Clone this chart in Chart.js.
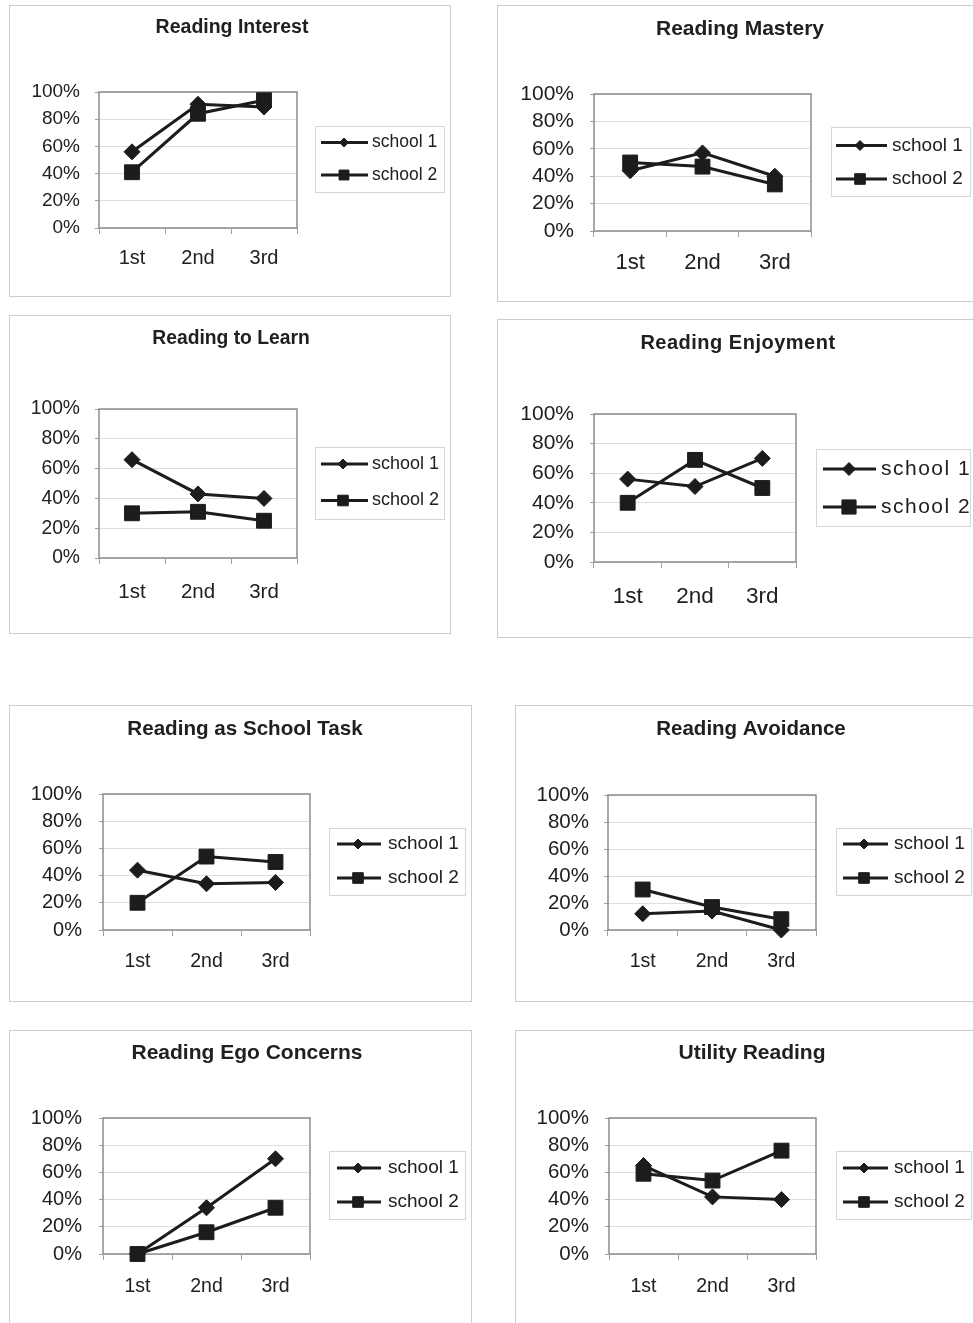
<!DOCTYPE html>
<html>
<head>
<meta charset="utf-8">
<script src="https://cdn.jsdelivr.net/npm/chart.js@4.4.0/dist/chart.umd.min.js"></script>
<style>
  html, body { margin: 0; padding: 0; background: #fff; width: 973px; height: 1323px; overflow: hidden; }
  canvas { position: absolute; }
</style>
</head>
<body>
<script>
// Grades on the x axis, the two schools compared, and the y tick labels
const grades = ['1st', '2nd', '3rd'];
const schools = ['school 1', 'school 2'];
const percentTicks = ['0%', '20%', '40%', '60%', '80%', '100%'];

const titles = [
  'Reading Interest', 'Reading Mastery', 'Reading to Learn', 'Reading Enjoyment',
  'Reading as School Task', 'Reading Avoidance', 'Reading Ego Concerns', 'Utility Reading'
];

// Share of students per grade (0..1)
const interestSchool1 = [0.56, 0.91, 0.89];
const interestSchool2 = [0.41, 0.84, 0.94];
const masterySchool1 = [0.44, 0.57, 0.40];
const masterySchool2 = [0.50, 0.47, 0.34];
const learnSchool1 = [0.66, 0.43, 0.40];
const learnSchool2 = [0.30, 0.31, 0.25];
const enjoymentSchool1 = [0.56, 0.51, 0.70];
const enjoymentSchool2 = [0.40, 0.69, 0.50];
const schoolTaskSchool1 = [0.44, 0.34, 0.35];
const schoolTaskSchool2 = [0.20, 0.54, 0.50];
const avoidanceSchool1 = [0.12, 0.14, 0.00];
const avoidanceSchool2 = [0.30, 0.17, 0.08];
const egoSchool1 = [0.00, 0.34, 0.70];
const egoSchool2 = [0.00, 0.16, 0.34];
const utilitySchool1 = [0.65, 0.42, 0.40];
const utilitySchool2 = [0.59, 0.54, 0.76];

const school1Series = [interestSchool1, masterySchool1, learnSchool1, enjoymentSchool1,
  schoolTaskSchool1, avoidanceSchool1, egoSchool1, utilitySchool1];
const school2Series = [interestSchool2, masterySchool2, learnSchool2, enjoymentSchool2,
  schoolTaskSchool2, avoidanceSchool2, egoSchool2, utilitySchool2];

// Page layout of each panel: frame, plot area, legend box and font sizes (px)
const panelLayouts = [
  { box: [9, 5, 451, 297], plot: [99, 92, 297, 228], legend: [315, 126, 444, 192], lineX: [321, 368], markX: 344, rows: [142.5, 175], textX: 372,
    titleAt: [232, 28], titleSize: 19.5, ySize: 19, yLabelRight: 80, xSize: 20, xLabelY: 258, legendSize: 17.5, legendMarks: [4.5, 7], spacing: 0 },
  { box: [497, 5, 980, 302], plot: [594, 94, 811, 231], legend: [831, 127, 970, 196], lineX: [836, 887], markX: 860, rows: [145.5, 179], textX: 892,
    titleAt: [740, 29], titleSize: 21, ySize: 21, yLabelRight: 574, xSize: 22, xLabelY: 263, legendSize: 19, legendMarks: [5, 7.5], spacing: 0 },
  { box: [9, 315, 451, 634], plot: [99, 409, 297, 558], legend: [315, 447, 444, 519], lineX: [321, 368], markX: 343, rows: [464, 500.5], textX: 372,
    titleAt: [231, 339], titleSize: 19.3, ySize: 19.3, yLabelRight: 80, xSize: 20.5, xLabelY: 592, legendSize: 18, legendMarks: [5, 7.5], spacing: 0 },
  { box: [497, 319, 980, 638], plot: [594, 414, 796, 562], legend: [816, 449, 970, 526], lineX: [823, 876], markX: 849, rows: [469, 507], textX: 881,
    titleAt: [738, 343], titleSize: 20, ySize: 21, yLabelRight: 574, xSize: 22.5, xLabelY: 597, legendSize: 21, legendMarks: [6.5, 10], spacing: 1 },
  { box: [9, 705, 472, 1002], plot: [103, 794, 310, 930], legend: [329, 828, 465, 895], lineX: [337, 381], markX: 358, rows: [844, 878], textX: 388,
    titleAt: [245, 729], titleSize: 20.6, ySize: 20, yLabelRight: 82, xSize: 19.5, xLabelY: 962, legendSize: 19, legendMarks: [5, 7.5], spacing: 0 },
  { box: [515, 705, 980, 1002], plot: [608, 795, 816, 930], legend: [836, 828, 971, 895], lineX: [843, 888], markX: 864, rows: [844, 878], textX: 894,
    titleAt: [751, 729], titleSize: 20.5, ySize: 20.5, yLabelRight: 589, xSize: 19.5, xLabelY: 962, legendSize: 19, legendMarks: [5, 7.5], spacing: 0 },
  { box: [9, 1030, 472, 1330], plot: [103, 1118, 310, 1254], legend: [329, 1151, 465, 1219], lineX: [337, 381], markX: 358, rows: [1168, 1202], textX: 388,
    titleAt: [247, 1053], titleSize: 21, ySize: 20, yLabelRight: 82, xSize: 19.5, xLabelY: 1287, legendSize: 19, legendMarks: [5, 7.5], spacing: 0 },
  { box: [515, 1030, 980, 1330], plot: [609, 1118, 816, 1254], legend: [836, 1151, 971, 1219], lineX: [843, 888], markX: 864, rows: [1168, 1202], textX: 894,
    titleAt: [752, 1053], titleSize: 21, ySize: 20.5, yLabelRight: 589, xSize: 19.5, xLabelY: 1287, legendSize: 19, legendMarks: [5, 7.5], spacing: 0 }
];

const FONT = "'Liberation Sans', Arial, Helvetica, sans-serif";
const INK = '#1c1c1c';
const TEXT = '#202020';

// Frame, title, plot border and the boxed legend of one panel
const panelFrame = {
  id: 'panelFrame',
  beforeDraw(chart, args, o) {
    const ctx = chart.ctx;
    ctx.save();
    ctx.fillStyle = '#fff';
    ctx.fillRect(0, 0, chart.width, chart.height);
    ctx.strokeStyle = '#cdcdcd';
    ctx.lineWidth = 1;
    ctx.strokeRect(0.5, 0.5, chart.width - 1, chart.height - 1);
    ctx.fillStyle = TEXT;
    ctx.font = `bold ${o.titleSize}px ${FONT}`;
    ctx.textAlign = 'center';
    ctx.textBaseline = 'middle';
    if (o.spacing) ctx.letterSpacing = '0.5px';
    ctx.fillText(o.title, o.titleAt[0] - o.box[0], o.titleAt[1] - o.box[1]);
    ctx.restore();
  },
  beforeDatasetsDraw(chart) {
    const a = chart.chartArea;
    const ctx = chart.ctx;
    ctx.save();
    ctx.strokeStyle = '#8c8c8c';
    ctx.lineWidth = 1.5;
    ctx.strokeRect(a.left, a.top, a.right - a.left, a.bottom - a.top);
    ctx.restore();
  },
  afterDraw(chart, args, o) {
    const ctx = chart.ctx;
    const ox = o.box[0], oy = o.box[1];
    const [lx0, ly0, lx1, ly1] = o.legend;
    ctx.save();
    ctx.strokeStyle = '#d6d6d6';
    ctx.lineWidth = 1;
    ctx.strokeRect(lx0 - ox + 0.5, ly0 - oy + 0.5, lx1 - lx0, ly1 - ly0);
    chart.data.datasets.forEach((ds, k) => {
      const y = o.rows[k] - oy;
      ctx.strokeStyle = ds.borderColor;
      ctx.lineWidth = 3;
      ctx.beginPath();
      ctx.moveTo(o.lineX[0] - ox, y);
      ctx.lineTo(o.lineX[1] - ox, y);
      ctx.stroke();
      ctx.fillStyle = ds.pointBackgroundColor;
      ctx.strokeStyle = ds.pointBorderColor;
      ctx.lineWidth = 1;
      Chart.helpers.drawPoint(ctx, { pointStyle: ds.pointStyle, radius: o.legendMarks[k], borderWidth: 1, rotation: 0 }, o.markX - ox, y);
      ctx.fillStyle = TEXT;
      ctx.font = `${o.legendSize}px ${FONT}`;
      ctx.textAlign = 'left';
      ctx.textBaseline = 'middle';
      if (o.spacing) ctx.letterSpacing = '1.5px';
      ctx.fillText(ds.label, o.textX - ox, y);
      ctx.letterSpacing = '0px';
    });
    ctx.restore();
  }
};

function seriesStyle(label, data, pointStyle, radius) {
  return {
    label, data, pointStyle,
    borderColor: INK, borderWidth: 3,
    pointBackgroundColor: INK, pointBorderColor: INK, pointBorderWidth: 1,
    pointRadius: radius, pointHoverRadius: radius,
    tension: 0, fill: false, clip: false
  };
}

panelLayouts.forEach((L, i) => {
  const [bx0, by0, bx1, by1] = L.box;
  const [px0, py0, px1, py1] = L.plot;
  const W = bx1 - bx0, H = by1 - by0;
  const cv = document.createElement('canvas');
  cv.width = W; cv.height = H;
  cv.style.left = bx0 + 'px'; cv.style.top = by0 + 'px';
  cv.style.width = W + 'px'; cv.style.height = H + 'px';
  document.body.appendChild(cv);

  const yTickLen = 4, xTickLen = 6;
  const yPad = (px0 - L.yLabelRight) - yTickLen;
  const xPad = (L.xLabelY - py1) - xTickLen - 0.6 * L.xSize;

  new Chart(cv, {
    type: 'line',
    data: {
      labels: grades,
      datasets: [
        seriesStyle(schools[0], school1Series[i], 'rectRot', 8),
        seriesStyle(schools[1], school2Series[i], 'rect', 10.5)
      ]
    },
    options: {
      responsive: false,
      animation: false,
      devicePixelRatio: 1,
      events: [],
      layout: { padding: { left: 0, top: py0 - by0, right: bx1 - px1, bottom: 0 } },
      scales: {
        x: {
          type: 'category',
          offset: true,
          border: { display: false },
          grid: { offset: true, drawOnChartArea: false, drawTicks: true, tickLength: xTickLen, color: '#a0a0a0', lineWidth: 1 },
          ticks: { color: TEXT, font: { family: FONT, size: L.xSize }, padding: xPad, maxRotation: 0, autoSkip: false },
          afterFit(scale) { scale.height = by1 - py1; }
        },
        y: {
          min: 0, max: 1,
          border: { display: false },
          grid: { color: '#dedede', lineWidth: 1, drawTicks: true, tickLength: yTickLen, tickColor: '#a0a0a0' },
          ticks: {
            stepSize: 0.2, autoSkip: false, color: TEXT, padding: yPad,
            font: { family: FONT, size: L.ySize },
            callback: (v) => percentTicks[Math.round(v * 5)]
          },
          afterFit(scale) { scale.width = px0 - bx0; }
        }
      },
      plugins: {
        legend: { display: false },
        tooltip: { enabled: false },
        title: { display: false },
        panelFrame: Object.assign({ title: titles[i] }, L)
      }
    },
    plugins: [panelFrame]
  });
});
</script>
</body>
</html>
